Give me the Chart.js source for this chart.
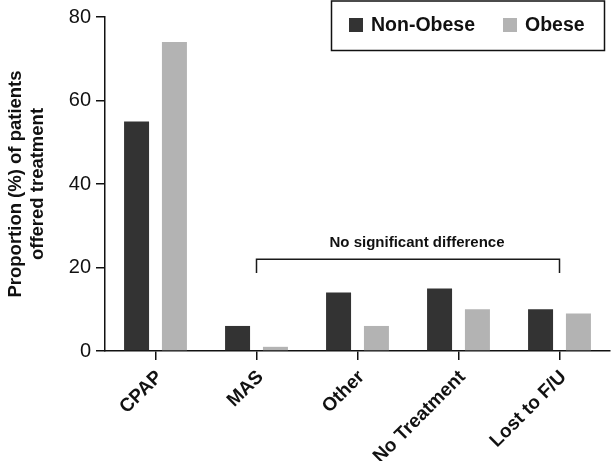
<!DOCTYPE html>
<html>
<head>
<meta charset="utf-8">
<script src="https://cdn.jsdelivr.net/npm/chart.js@4/dist/chart.umd.min.js"></script>
<style>
  html, body { margin: 0; padding: 0; background: #ffffff; }
  canvas { display: block; }
</style>
</head>
<body>
<canvas id="c" width="611" height="461"></canvas>
<script>
const categories = ['CPAP', 'MAS', 'Other', 'No Treatment', 'Lost to F/U'];
const nonObese = [55, 6, 14, 15, 10];
const obese = [74, 1, 6, 10, 9];
const seriesNames = ['Non-Obese', 'Obese'];
const yTitle = ['Proportion (%) of patients', 'offered treatment'];
const bracketText = 'No significant difference';
const bracketFrom = 'MAS';
const bracketTo = 'Lost to F/U';
const bracketTopValue = 22;
const bracketBottomValue = 18.7;

const FONT = '"Liberation Sans", Arial, Helvetica, sans-serif';
const DARK = '#333333';
const LIGHT = '#b3b3b3';

const overlay = {
  id: 'overlay',
  afterDraw(chart) {
    const ctx = chart.ctx;
    const xs = chart.scales.x, ys = chart.scales.y;
    const x1 = xs.getPixelForValue(categories.indexOf(bracketFrom));
    const x2 = xs.getPixelForValue(categories.indexOf(bracketTo));
    const yt = ys.getPixelForValue(bracketTopValue);
    const yb = ys.getPixelForValue(bracketBottomValue);
    ctx.save();
    ctx.strokeStyle = '#1a1a1a';
    ctx.lineWidth = 1.5;
    ctx.beginPath();
    ctx.moveTo(x1, yb);
    ctx.lineTo(x1, yt);
    ctx.lineTo(x2, yt);
    ctx.lineTo(x2, yb);
    ctx.stroke();
    ctx.fillStyle = '#111';
    ctx.font = 'bold 15px ' + FONT;
    ctx.textAlign = 'center';
    ctx.textBaseline = 'middle';
    ctx.fillText(bracketText, (x1 + x2) / 2 + 9, yt - 16);

    ctx.lineWidth = 1.5;
    ctx.strokeStyle = '#111';
    ctx.strokeRect(331.5, 1, 273, 49.5);
    const ds = chart.data.datasets;
    const items = [{x: 349, tx: 371}, {x: 503, tx: 525}];
    ctx.font = 'bold 19.5px ' + FONT;
    ctx.textAlign = 'left';
    ds.forEach((d, i) => {
      ctx.fillStyle = d.backgroundColor;
      ctx.fillRect(items[i].x, 18, 14, 14);
      ctx.fillStyle = '#111';
      ctx.fillText(d.label, items[i].tx, 25.5);
    });
    ctx.restore();
  }
};

new Chart(document.getElementById('c'), {
  type: 'bar',
  data: {
    labels: categories,
    datasets: [
      { label: seriesNames[0], data: nonObese, backgroundColor: DARK },
      { label: seriesNames[1], data: obese, backgroundColor: LIGHT }
    ]
  },
  options: {
    responsive: false,
    animation: false,
    devicePixelRatio: 1,
    categoryPercentage: 0.75,
    barPercentage: 0.66,
    layout: { padding: { top: 15, right: 1, bottom: 0, left: 0 } },
    plugins: {
      legend: { display: false },
      tooltip: { enabled: false }
    },
    scales: {
      x: {
        grid: { offset: false, drawOnChartArea: false, drawTicks: true, tickLength: 9, color: '#111', lineWidth: 1.5 },
        border: { display: true, color: '#111', width: 1.5 },
        ticks: {
          color: '#111',
          font: { family: FONT, size: 19, weight: 'bold' },
          minRotation: 45, maxRotation: 45, padding: 6, labelOffset: 4, autoSkip: false
        },
        afterFit(scale) { scale.height = 110; }
      },
      y: {
        min: 0, max: 80,
        grid: { drawOnChartArea: false, drawTicks: true, tickLength: 9, color: '#111', lineWidth: 1.5 },
        border: { display: true, color: '#111', width: 1.5 },
        ticks: {
          stepSize: 20, color: '#111', padding: 5,
          font: { family: FONT, size: 20 }
        },
        title: {
          display: true, text: yTitle, color: '#111',
          font: { family: FONT, size: 18.5, weight: 'bold', lineHeight: 1.2 },
          padding: { top: 5, bottom: 0 }
        },
        afterFit(scale) { scale.width = 105; }
      }
    }
  },
  plugins: [overlay]
});
</script>
</body>
</html>
